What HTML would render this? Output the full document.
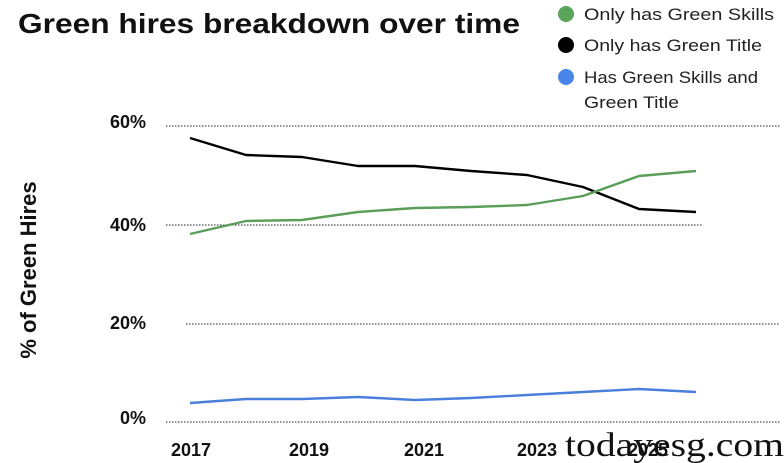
<!DOCTYPE html>
<html><head><meta charset="utf-8"><style>
body{margin:0;background:#fff;}
svg{display:block;font-family:"Liberation Sans",sans-serif;}
</style></head><body>
<svg width="784" height="463" viewBox="0 0 784 463">
<text x="18" y="33" font-size="28" font-weight="bold" fill="#111" textLength="502" lengthAdjust="spacingAndGlyphs">Green hires breakdown over time</text>
<circle cx="566" cy="14" r="8" fill="#5aa55a"/>
<text x="584" y="20" font-size="17" fill="#222" textLength="190" lengthAdjust="spacingAndGlyphs">Only has Green Skills</text>
<circle cx="566" cy="45" r="8" fill="#000"/>
<text x="584" y="51" font-size="17" fill="#222" textLength="178" lengthAdjust="spacingAndGlyphs">Only has Green Title</text>
<circle cx="566" cy="77" r="8" fill="#4a86e8"/>
<text x="584" y="83" font-size="17" fill="#222" textLength="174" lengthAdjust="spacingAndGlyphs">Has Green Skills and</text>
<text x="584" y="108" font-size="17" fill="#222" textLength="95" lengthAdjust="spacingAndGlyphs">Green Title</text>
<g stroke="#222" stroke-width="1" stroke-dasharray="1.5 1.5">
<line x1="166" y1="126" x2="780" y2="126"/>
<line x1="166" y1="225" x2="702" y2="225"/>
<line x1="186" y1="324" x2="780" y2="324"/>
<line x1="166" y1="422" x2="780" y2="422"/>
</g>
<g font-size="18" font-weight="bold" fill="#111" text-anchor="end">
<text x="146" y="128">60%</text>
<text x="146" y="231">40%</text>
<text x="146" y="329">20%</text>
<text x="146" y="424">0%</text>
</g>
<text transform="translate(36,270) rotate(-90)" font-size="22" font-weight="bold" fill="#111" text-anchor="middle">% of Green Hires</text>
<g font-size="18" font-weight="bold" fill="#111" text-anchor="middle">
<text x="191" y="456">2017</text>
<text x="309" y="456">2019</text>
<text x="424" y="456">2021</text>
<text x="537" y="456">2023</text>
<text x="648" y="456">2025</text>
</g>
<g fill="none" stroke-width="2.4" stroke-linejoin="round">
<polyline stroke="#000" points="190,138 246,155 302,157 358,166 415,166 471,171 527,175 583,187 639,209 696,212"/>
<polyline stroke="#5a9e5a" points="190,234 246,221 302,220 358,212 415,208 471,207 527,205 583,196 639,176 696,171"/>
<polyline stroke="#4a7fdc" points="190,403 246,399 302,399 358,397 415,400 471,398 527,395 583,392 639,389 696,392"/>
</g>
<text x="565" y="456" font-family="Liberation Serif,serif" font-size="34" fill="#111" textLength="219" lengthAdjust="spacingAndGlyphs">todayesg.com</text>
</svg>
</body></html>
